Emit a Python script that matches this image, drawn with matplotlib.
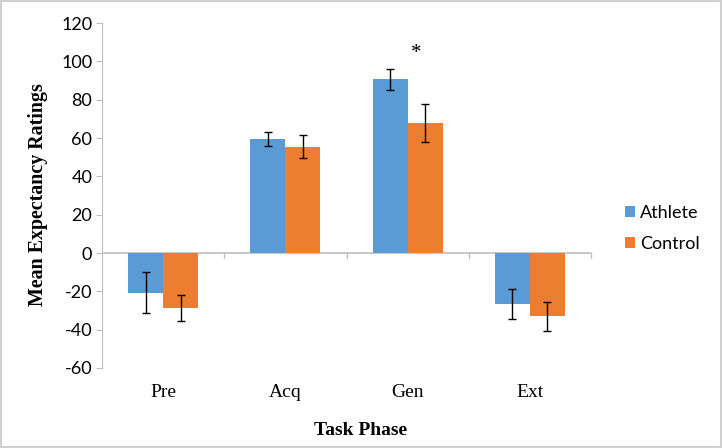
import numpy as np
import matplotlib.pyplot as plt
from matplotlib.transforms import blended_transform_factory

phases = ['Pre', 'Acq', 'Gen', 'Ext']
athlete = [-20.7, 59.5, 90.6, -26.8]
athlete_err = [10.6, 3.6, 5.3, 7.8]
control = [-28.7, 55.5, 67.7, -33.1]
control_err = [7.0, 6.1, 9.8, 7.5]
yticks = list(range(-60, 121, 20))

fig = plt.figure(figsize=(7.22, 4.48), dpi=100)
ax = fig.add_axes([0.1413, 0.1786, 0.6773, 0.770])

x = np.arange(len(phases))
w = 1 / 3.5
ax.bar(x - w / 2, athlete, w, color='#5b9bd5', label='Athlete', zorder=2)
ax.bar(x + w / 2, control, w, color='#ed7d31', label='Control', zorder=2)
ek = dict(fmt='none', ecolor='black', elinewidth=1, capsize=3, capthick=1, zorder=3)
ax.errorbar(x - w / 2, athlete, yerr=athlete_err, **ek)
ax.errorbar(x + w / 2, control, yerr=control_err, **ek)

ax.text(2 + w / 2 - 0.07, 104, '*', ha='center', va='center', fontsize=15,
        family='Liberation Serif')

ax.set_xlim(-0.5, 3.5)
ax.set_ylim(-60, 120)
ax.set_yticks(yticks)
ax.set_yticklabels([str(t) for t in yticks], family='Lato', fontsize=13)
ax.tick_params(axis='y', length=4, color='#bfbfbf', pad=3)
ax.set_xticks([])
for s in ['top', 'right', 'bottom']:
    ax.spines[s].set_visible(False)
ax.spines['left'].set_color('#bfbfbf')
ax.axhline(0, color='#bfbfbf', lw=1.2, zorder=1)
for b in np.arange(0.5, 4, 1):
    ax.plot([b, b], [0, -2.6], color='#bfbfbf', lw=1, zorder=1, clip_on=False)

tr = blended_transform_factory(ax.transData, ax.transAxes)
for i, p in enumerate(phases):
    ax.text(i, -0.07, p, transform=tr, ha='center', va='center',
            family='Liberation Serif', fontsize=14)

fig.text(0.499, 0.04, 'Task Phase', ha='center', va='center',
         family='Liberation Serif', fontweight='bold', fontsize=14)
fig.text(0.052, 0.565, 'Mean Expectancy Ratings', ha='center', va='center',
         rotation=90, family='Liberation Serif', fontweight='bold', fontsize=14.4)

leg = fig.legend(loc='center left', bbox_to_anchor=(0.843, 0.49), frameon=False,
                 prop={'family': 'Lato', 'size': 13}, handlelength=0.55,
                 handleheight=0.55, handletextpad=0.3, labelspacing=0.85)

fig.patches.append(plt.Rectangle((0.001, 0.002), 0.997, 0.996, transform=fig.transFigure,
                                 fill=False, edgecolor='#d0d0d0', lw=1.5))
fig.savefig('out.png', dpi=100)
